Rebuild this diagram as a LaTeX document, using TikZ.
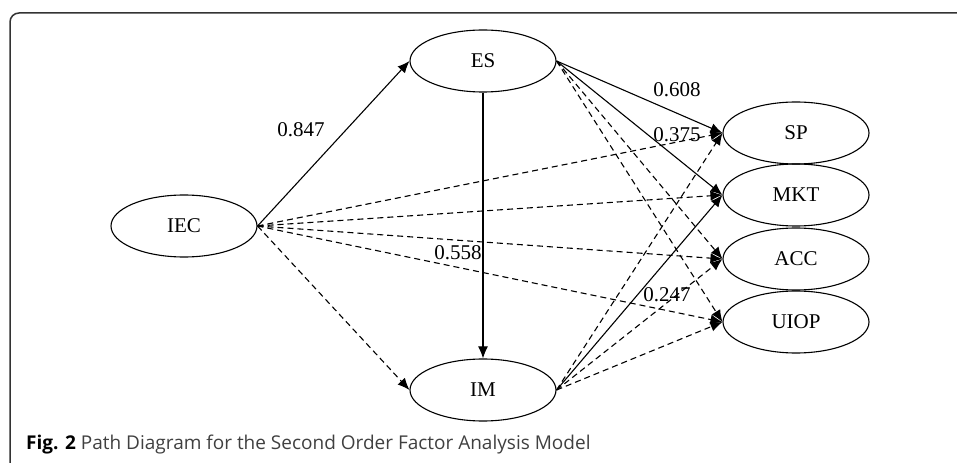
\documentclass[tikz,border=0pt]{standalone}
\usepackage{fontspec}
\setmainfont{Liberation Serif}
\newfontfamily\capfont{Open Sans}
\usetikzlibrary{shapes.geometric,arrows.meta}
\begin{document}
\begin{tikzpicture}[x=1bp,y=-1bp,
  lat/.style={draw, ellipse, line width=1.1bp, minimum width=146bp, minimum height=62bp, inner sep=0pt, font=\fontsize{21bp}{24bp}\selectfont},
  conn/.style={line width=1.1bp, -{Latex[length=12bp,width=10bp]}},
  dsh/.style={conn, dash pattern=on 6bp off 4bp},
  lbl/.style={font=\fontsize{21bp}{24bp}\selectfont, inner sep=0pt}]
\useasboundingbox (0,0) rectangle (957,463);
\draw[line width=1.5bp, black!80, rounded corners=9bp] (10,463) -- (10,13) -- (957,13);
\node[lat] (IEC) at (184,226) {IEC};
\node[lat] (ES) at (483,61) {ES};
\node[lat] (IM) at (483,390) {IM};
\node[lat] (SP) at (796,133) {SP};
\node[lat] (MKT) at (796,195) {MKT};
\node[lat] (ACC) at (796,259) {ACC};
\node[lat] (UIOP) at (796,322) {UIOP};
\draw[conn] (IEC.east) -- (ES.west);
\draw[dsh] (IEC.east) -- (IM.west);
\draw[dsh] (IEC.east) -- (SP.west);
\draw[dsh] (IEC.east) -- (MKT.west);
\draw[dsh] (IEC.east) -- (ACC.west);
\draw[dsh] (IEC.east) -- (UIOP.west);
\draw[conn] (ES.south) -- (IM.north);
\draw[conn] (ES.east) -- (SP.west);
\draw[conn] (ES.east) -- (MKT.west);
\draw[dsh] (ES.east) -- (ACC.west);
\draw[dsh] (ES.east) -- (UIOP.west);
\draw[dsh] (IM.east) -- (SP.west);
\draw[conn] (IM.east) -- (MKT.west);
\draw[dsh] (IM.east) -- (ACC.west);
\draw[dsh] (IM.east) -- (UIOP.west);
\node[lbl] (l1) at (301,130) {0.847};
\node[lbl] (l2) at (458,253) {0.558};
\node[lbl] (l3) at (677,90) {0.608};
\node[lbl] (l4) at (677,135) {0.375};
\node[lbl] (l5) at (667,295) {0.247};
\node[anchor=west, inner sep=0pt, font=\capfont\fontsize{19bp}{22bp}\selectfont] (cap) at (26,445) {\textbf{Fig. 2} \textcolor{black!75}{Path Diagram for the Second Order Factor Analysis Model}};
\end{tikzpicture}
\end{document}
